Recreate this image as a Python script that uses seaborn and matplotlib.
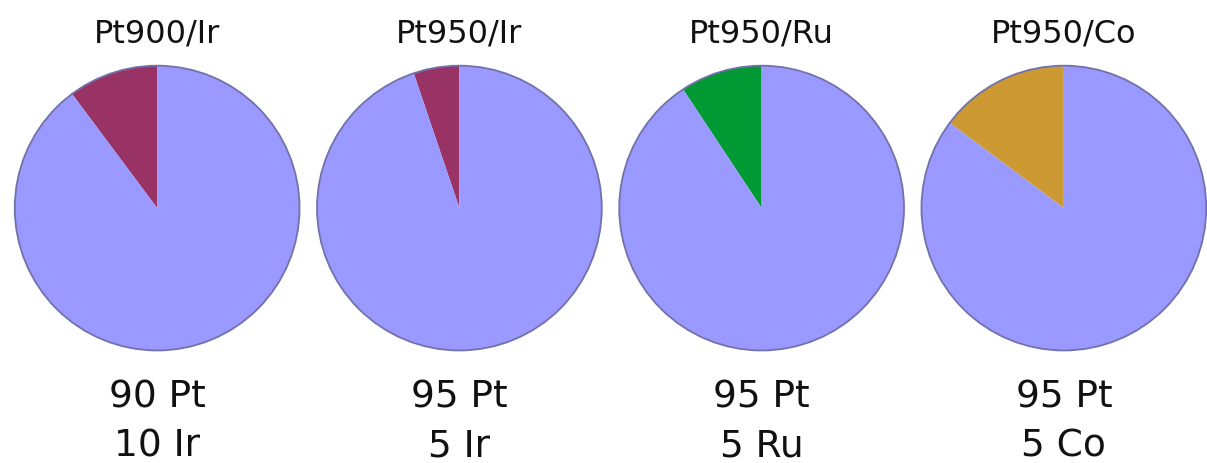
import numpy as np
import matplotlib
matplotlib.use("Agg")
import matplotlib.pyplot as plt
import seaborn as sns
from matplotlib.patches import Circle

# alloy data (slices drawn by atomic share, labels by mass parts)
alloys = ["Pt900/Ir", "Pt950/Ir", "Pt950/Ru", "Pt950/Co"]
pt_parts = [90, 95, 95, 95]
other_parts = [10, 5, 5, 5]
other_elements = ["Ir", "Ir", "Ru", "Co"]
other_slice = [10.2, 5.2, 9.3, 14.8]   # share of the drawn slice, %
slice_colors = ["#993366", "#993366", "#009933", "#cc9933"]
pt_color = "#9999ff"

sns.set_theme(style="white")
plt.rcParams['font.family'] = ['DejaVu Sans']

fig, axes = plt.subplots(1, 4, figsize=(12.07, 4.63), dpi=100)
fig.subplots_adjust(left=0.005, right=0.005 + 4 * 0.2504, bottom=0.2246,
                    top=0.2246 + 0.652, wspace=0)

for i, ax in enumerate(axes):
    minor = other_slice[i]
    ax.pie([minor, 100 - minor], colors=[slice_colors[i], pt_color],
           startangle=90, counterclock=True,
           wedgeprops=dict(linewidth=0))
    ax.add_patch(Circle((0, 0), 1, facecolor="none", edgecolor="#7272aa", linewidth=1.3))
    ax.set_xlim(-1.06, 1.06)
    ax.set_ylim(-1.06, 1.06)
    ax.set_aspect("equal")
    ax.axis("off")

    ax.text(0, 1.166, alloys[i], ha="center", va="baseline", fontsize=23, color="#111111")
    ax.text(0, -1.404, f"{pt_parts[i]} Pt", ha="center", va="baseline", fontsize=27, color="#111111")
    ax.text(0, -1.745, f"{other_parts[i]} {other_elements[i]}", ha="center", va="baseline",
            fontsize=27, color="#111111")

plt.savefig("out.png", dpi=100)
